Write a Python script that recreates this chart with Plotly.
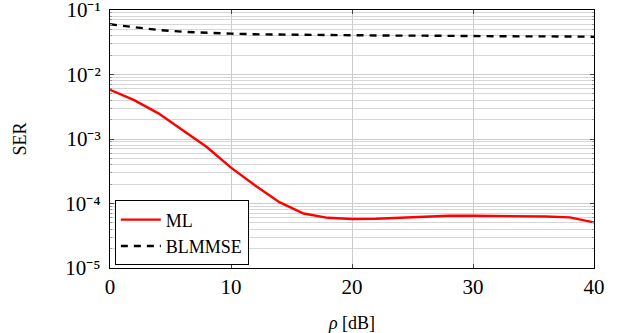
import plotly.graph_objects as go

snr_db = [0, 2, 4, 6, 8, 10, 12, 14, 16, 18, 20, 22, 24, 26, 28, 30, 32, 34, 36, 38, 40]
ser_ml = [5.8e-3, 4.0e-3, 2.5e-3, 1.35e-3, 7.5e-4, 3.6e-4, 1.9e-4, 1.05e-4, 7.0e-5, 6.0e-5,
          5.75e-5, 5.8e-5, 6.0e-5, 6.2e-5, 6.45e-5, 6.45e-5, 6.45e-5, 6.45e-5, 6.3e-5, 6.1e-5, 5.1e-5]
ser_blmmse = [0.060, 0.054, 0.049, 0.046, 0.044, 0.043, 0.042, 0.0415, 0.041, 0.0405,
              0.0405, 0.040, 0.040, 0.040, 0.0395, 0.0395, 0.039, 0.039, 0.039, 0.0388, 0.0385]
ytick_vals = [1e-5, 1e-4, 1e-3, 1e-2, 1e-1]
ytick_text = ["10⁻⁵", "10⁻⁴", "10⁻³", "10⁻²", "10⁻¹"]
xtick_vals = [0, 10, 20, 30, 40]

font = "Liberation Serif"
fig = go.Figure()
fig.add_trace(go.Scatter(x=snr_db, y=ser_ml, mode="lines", name="ML",
                         line=dict(color="#ff0000", width=2.4)))
fig.add_trace(go.Scatter(x=snr_db, y=ser_blmmse, mode="lines", name="BLMMSE",
                         line=dict(color="black", width=2.4, dash="7px,6px")))

fig.update_layout(
    template="none",
    width=622, height=333,
    margin=dict(l=110, r=28, t=10, b=65),
    paper_bgcolor="white", plot_bgcolor="white",
    font=dict(family=font, size=18, color="black"),
    legend=dict(x=0.01, y=0.01, xanchor="left", yanchor="bottom",
                bordercolor="black", borderwidth=1, bgcolor="white", itemwidth=40,
                font=dict(size=18, family=font), tracegroupgap=0),
    xaxis=dict(range=[0, 40], tickvals=xtick_vals, showline=True, linecolor="black",
               linewidth=1.2, mirror="allticks", ticks="inside", ticklen=4,
               tickfont=dict(size=21, family=font, color="black"), automargin=False,
               ticklabeloverflow="allow",
               showgrid=True, gridcolor="#cccccc", gridwidth=1, zeroline=False,
               title=dict(text="<i>ρ</i> [dB]", font=dict(size=18, family=font), standoff=18)),
    yaxis=dict(type="log", range=[-5, -1], tickvals=ytick_vals, ticktext=ytick_text,
               showline=True, linecolor="black", linewidth=1.2, mirror="allticks",
               ticks="inside", ticklen=4, showgrid=True, gridcolor="#cccccc", gridwidth=1,
               tickfont=dict(size=21, family=font, color="black"), zeroline=False,
               automargin=False, ticklabeloverflow="allow", ticklabelstandoff=4,
               minor=dict(dtick="D1", showgrid=True, gridcolor="#d6d6d6", gridwidth=1,
                          ticks="inside", ticklen=2, tickcolor="#999999"),
               title=dict(text="SER", font=dict(size=18, family=font), standoff=34)),
)
fig.write_html("out.html")
